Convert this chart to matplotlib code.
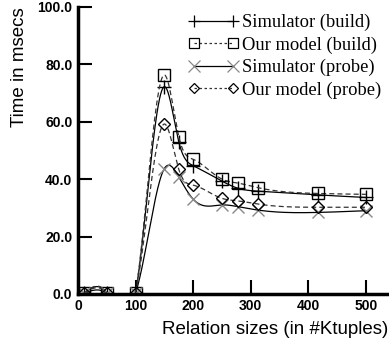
import numpy as np
import matplotlib.pyplot as plt

sizes = [10, 50, 100, 150, 175, 200, 250, 278, 313, 417, 500]
sim_build = [0.3, 0.3, 0.4, 72.2, 53.0, 44.7, 39.3, 36.8, 35.8, 34.5, 33.6]
model_build = [0.3, 0.3, 0.4, 76.3, 54.8, 46.9, 40.0, 38.6, 37.0, 35.0, 34.7]
sim_probe = [0.2, 0.2, 0.3, 43.7, 40.8, 33.0, 31.0, 30.4, 29.2, 28.4, 29.0]
model_probe = [0.3, 0.3, 0.4, 59.2, 43.4, 37.9, 33.3, 32.4, 31.3, 30.2, 30.2]


def csplines(x, y, n=600):
    # natural cubic spline, like gnuplot "smooth csplines"
    x = np.asarray(x, float)
    y = np.asarray(y, float)
    k = len(x)
    h = np.diff(x)
    A = np.zeros((k, k))
    r = np.zeros(k)
    A[0, 0] = A[-1, -1] = 1
    for i in range(1, k - 1):
        A[i, i - 1] = h[i - 1]
        A[i, i] = 2 * (h[i - 1] + h[i])
        A[i, i + 1] = h[i]
        r[i] = 6 * ((y[i + 1] - y[i]) / h[i] - (y[i] - y[i - 1]) / h[i - 1])
    m = np.linalg.solve(A, r)
    xs = np.linspace(x[0], x[-1], n)
    idx = np.clip(np.searchsorted(x, xs) - 1, 0, k - 2)
    x0, x1 = x[idx], x[idx + 1]
    hh = x1 - x0
    a = (x1 - xs) / hh
    b = (xs - x0) / hh
    ys = a * y[idx] + b * y[idx + 1] + ((a**3 - a) * m[idx] + (b**3 - b) * m[idx + 1]) * hh**2 / 6
    return xs, ys


fig = plt.figure(figsize=(3.89, 3.45), dpi=100)
ax = fig.add_axes([0.2005, 0.148, 0.7995, 0.832])

series = [
    (sim_build, '-', '+', 'black', 'black', 10, 'Simulator (build)'),
    (model_build, '--', 's', '#333333', 'black', 8, 'Our model (build)'),
    (sim_probe, '-', 'x', 'black', '#888888', 9, 'Simulator (probe)'),
    (model_probe, '--', 'D', '#333333', 'black', 6, 'Our model (probe)'),
]
handles = []
for vals, ls, mk, lc, mc, ms, lab in series:
    xs, ys = csplines(sizes, vals)
    ax.plot(xs, ys, ls=ls, color=lc, lw=0.9, dashes=(4, 2.5) if ls == '--' else (None, None))
    ax.plot(sizes, vals, ls='none', marker=mk, ms=ms, mfc='none', mec=mc, mew=1.0)
    h, = ax.plot([], [], ls=ls, color=lc, lw=0.9, marker=mk, ms=ms - 1, mfc='none', mec=mc, mew=0.9, label=lab)
    if ls == '--':
        h.set_dashes((2, 2))
    handles.append(h)

ax.set_xlim(0, 540)
ax.set_ylim(0, 100)
ax.set_xticks([0, 100, 200, 300, 400, 500])
ax.set_yticks([0, 20, 40, 60, 80, 100])
ax.set_yticklabels(['0.0', '20.0', '40.0', '60.0', '80.0', '100.0'])
for s in ['top', 'right']:
    ax.spines[s].set_visible(False)
for s in ['left', 'bottom']:
    ax.spines[s].set_linewidth(2.5)
ax.tick_params(direction='in', length=10, width=1.5, labelsize=10, pad=4)
for t in ax.get_xticklabels() + ax.get_yticklabels():
    t.set_fontweight('bold')
    t.set_family('Liberation Sans')

fig.text(0.05, 0.806, 'Time in msecs', rotation=90, ha='center', va='center',
         fontsize=13.5, family='Liberation Sans')
fig.text(0.997, 0.046, 'Relation sizes (in #Ktuples)', ha='right', va='center',
         fontsize=13.5, family='Liberation Sans')

ax.legend(handles=handles, loc='upper right', bbox_to_anchor=(1.005, 1.007), frameon=False,
          numpoints=2, handlelength=2.7, handletextpad=0.2, labelspacing=0.28,
          borderaxespad=0.1, prop={'family': 'Liberation Serif', 'size': 13.3})

fig.savefig('out.png', dpi=100)
